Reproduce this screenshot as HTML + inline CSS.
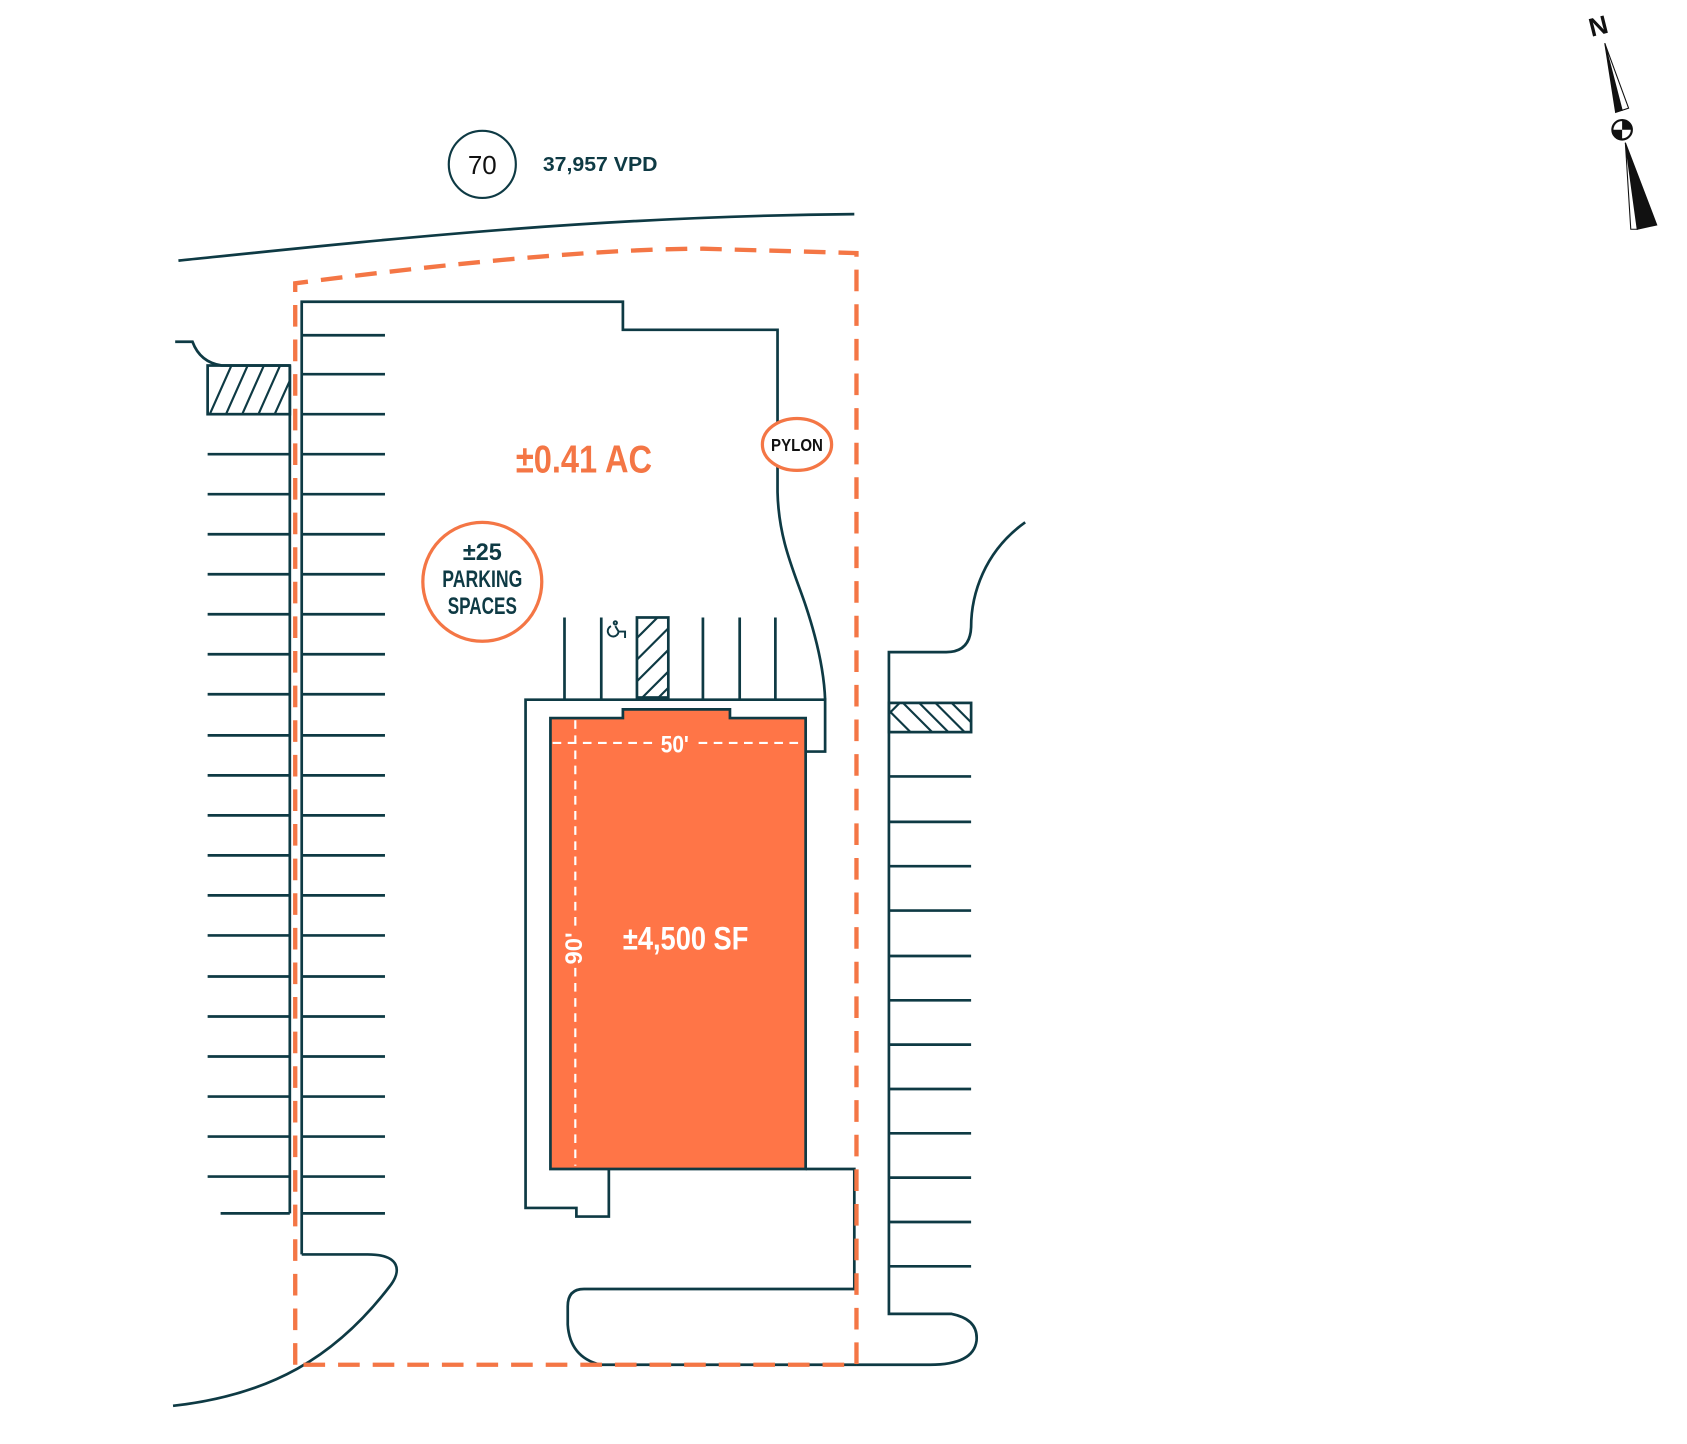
<!DOCTYPE html>
<html><head><meta charset="utf-8"><style>html,body{margin:0;padding:0;background:#fff}svg{display:block}</style></head><body>
<svg width="1687" height="1444" viewBox="0 0 1560 1335.3" preserveAspectRatio="none" xmlns="http://www.w3.org/2000/svg" font-family="Liberation Sans, sans-serif">
<g fill="none" stroke="#0e3a44" stroke-width="2.5">
<path d="M165,241 C350,222 550,200 790,198"/>
<circle cx="446" cy="152" r="31" stroke-width="2"/>
<path d="M279,1160 L279,279 L576,279 L576,305 L719,305 L719,455 C720,500 735,530 745,560 C755,590 762,620 763,647"/>
<path d="M522,647 L763,647 L763,695 L745,695"/>
<path d="M522,647 L486,647 L486,1117 L533,1117 L533,1125 L563,1125 L563,1081"/>
<path d="M745,1081 L790,1081 L790,1192 L540,1192 Q525,1192 525,1208 L525,1225 Q527,1255 555,1262 L792,1262"/>
<path d="M279,1160 L340,1160 C370,1160 372,1175 360,1190 C310,1255 250,1290 160,1300"/>
<path d="M268,338 L268,1122"/>
<path d="M162,316 L178,316 Q185,335 205,338 L268,338"/>
<rect x="192" y="338" width="76" height="45"/>
<path d="M948,483 C910,510 898,550 898,580 Q897,603 875,603 L822,603 L822,1215 L880,1215 Q905,1220 903,1240 Q900,1262 860,1262 L792,1262"/>
<rect x="822" y="650" width="76" height="27"/>
<rect x="589" y="571" width="29" height="74"/>
<path d="M522,571V647M556,571V647M650,571V647M684,571V647M717,571V647"/>
<path d="M192,420H268M192,457H268M192,494H268M192,531H268M192,568H268M192,605H268M192,642H268M192,680H268M192,717H268M192,754H268M192,791H268M192,828H268M192,865H268M192,903H268M192,940H268M192,977H268M192,1014H268M192,1051H268M192,1088H268M204,1122H268"/>
<path d="M279,310H356M279,346H356M279,383H356M279,420H356M279,457H356M279,494H356M279,531H356M279,568H356M279,605H356M279,642H356M279,680H356M279,717H356M279,754H356M279,791H356M279,828H356M279,865H356M279,903H356M279,940H356M279,977H356M279,1014H356M279,1051H356M279,1088H356M279,1122H356"/>
<path d="M822,718H898M822,760H898M822,801H898M822,842H898M822,884H898M822,925H898M822,966H898M822,1007H898M822,1048H898M822,1089H898M822,1130H898M822,1171H898"/>
</g>
<g stroke="#0e3a44" stroke-width="2">
<path d="M194,383 L214,338 M209,383 L229,338 M224,383 L244,338 M239,383 L259,338 M254,383 L268,352"/>
<path d="M589,590 L608,571 M589,610 L618,581 M589,630 L618,601 M594,645 L618,621 M609,645 L618,636"/>
<path d="M822,660 L832,650 M835,650 L862,677 M850,650 L877,677 M865,650 L892,677 M880,650 L898,668 M822,657 L842,677"/>
</g>
<path d="M273,1262 L273,262 C380,248 540,230 650,230 L792,234 L792,1262 Z" fill="none" stroke="#f47645" stroke-width="4" stroke-dasharray="20 12"/>
<path d="M509,664 L576,664 L576,656 L675,656 L675,664 L745,664 L745,1081 L509,1081 Z" fill="#ff7547" stroke="#0e3a44" stroke-width="2.5"/>
<g stroke="#fff" stroke-width="2" stroke-dasharray="8 6" fill="none">
<path d="M511,687 H604 M646,687 H742"/>
<path d="M532,666 V858 M532,895 V1078"/>
</g>
<text x="624" y="696" fill="#fff" font-weight="bold" font-size="22" text-anchor="middle" textLength="26" lengthAdjust="spacingAndGlyphs">50'</text>
<text transform="translate(538,877) rotate(-90)" fill="#fff" font-weight="bold" font-size="22" text-anchor="middle">90'</text>
<text x="634" y="878" fill="#fff" font-weight="bold" font-size="30" text-anchor="middle" textLength="116" lengthAdjust="spacingAndGlyphs">±4,500 SF</text>
<text x="540" y="437" fill="#f47645" font-weight="bold" font-size="36" text-anchor="middle" textLength="126" lengthAdjust="spacingAndGlyphs">±0.41 AC</text>
<ellipse cx="737" cy="411" rx="32" ry="24" fill="#fff" stroke="#f47645" stroke-width="3"/>
<text x="737" y="417" fill="#111" font-weight="bold" font-size="16" text-anchor="middle" textLength="48" lengthAdjust="spacingAndGlyphs">PYLON</text>
<circle cx="446" cy="538" r="55" fill="#fff" stroke="#f47645" stroke-width="3"/>
<g fill="#0e3a44" font-weight="bold" font-size="22" text-anchor="middle">
<text x="446" y="518" textLength="36" lengthAdjust="spacingAndGlyphs">±25</text>
<text x="446" y="543" textLength="74" lengthAdjust="spacingAndGlyphs">PARKING</text>
<text x="446" y="568" textLength="64" lengthAdjust="spacingAndGlyphs">SPACES</text>
</g>
<text x="446" y="161" fill="#111" font-size="24" text-anchor="middle">70</text>
<text x="502" y="158" fill="#0e3a44" font-weight="bold" font-size="19" textLength="106" lengthAdjust="spacingAndGlyphs">37,957 VPD</text>
<g fill="none" stroke="#0e3a44" stroke-width="1.8">
<circle cx="569" cy="576" r="1.5"/>
<path d="M569,579 L572,584 L578,584 L578,590 M572,584 A5,5 0 1 1 565,579"/>
</g>
<g>
<path d="M1484,40 L1500,102 L1494,104 Z" fill="#111" stroke="#111" stroke-width="1"/>
<path d="M1484,40 L1506,100 L1500,102 Z" fill="#fff" stroke="#111" stroke-width="1"/>
<circle cx="1500" cy="120" r="9" fill="#fff" stroke="#111" stroke-width="2"/>
<path d="M1491,120 A9,9 0 0 0 1500,129 L1500,120 Z M1509,120 A9,9 0 0 0 1500,111 L1500,120 Z" fill="#111"/>
<path d="M1503,132 L1532,208 L1514,212 Z" fill="#111" stroke="#111" stroke-width="1"/>
<path d="M1503,132 L1514,212 L1508,212 Z" fill="#fff" stroke="#111" stroke-width="1"/>
<text transform="translate(1480,32) rotate(-14)" fill="#111" font-weight="bold" font-size="24" text-anchor="middle">N</text>
</g>
</svg>
</body></html>
